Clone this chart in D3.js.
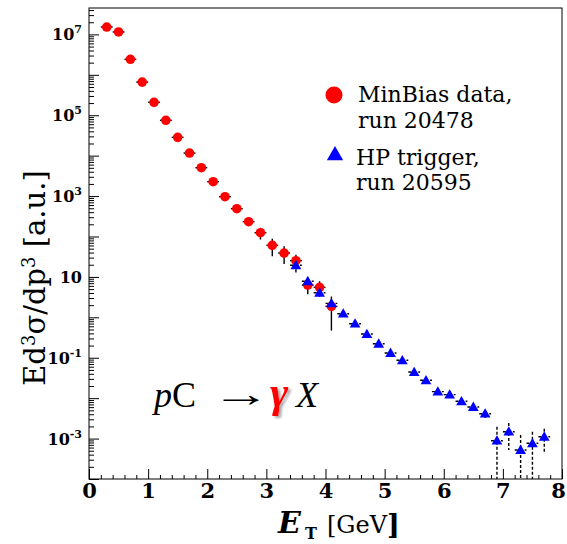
<!DOCTYPE html>
<html>
<head>
<meta charset="utf-8">
<script src="https://cdn.jsdelivr.net/npm/d3@7"></script>
<style>
  body { margin: 0; background: #fff; }
  svg { display: block; }
</style>
</head>
<body>
<svg id="chart" width="567" height="544"></svg>
<script>
// MinBias sample, run 20478: bin centres (GeV), invariant yield, absolute error
const mbET = [0.3, 0.5, 0.7, 0.9, 1.1, 1.3, 1.5, 1.7, 1.9, 2.1,
              2.3, 2.5, 2.7, 2.9, 3.1, 3.3, 3.5, 3.7, 3.9, 4.1];
const mbYield = [1.52e7, 1.15e7, 2.42e6, 6.6e5, 2.09e5, 7.5e4, 2.84e4, 1.16e4, 5.03e3, 2.27e3,
                 964, 487, 232, 124, 60.5, 39, 25.2, 6.3, 5.53, 1.87];
const mbErr = [3e5, 2.3e5, 5e4, 1.3e4, 4e3, 1.5e3, 600, 250, 110, 60,
               30, 20, 30, 40, 28, 18, 10, 2.6, 2.3, 1.4];

// HP-triggered sample, run 20595
const hpET = [3.5, 3.7, 3.9, 4.1, 4.3, 4.5, 4.7, 4.9, 5.1, 5.3, 5.5,
              5.7, 5.9, 6.1, 6.3, 6.5, 6.7, 6.9, 7.1, 7.3, 7.5, 7.7];
const hpYield = [19.4, 7.8, 4.06, 2.22, 1.23, 0.695, 0.386, 0.222, 0.131, 0.0865, 0.0443,
                 0.0277, 0.0145, 0.0122, 0.00836, 0.00604, 0.00413, 8.87e-4, 1.48e-3, 5.21e-4, 7.64e-4, 1.11e-3];
const hpErr = [7.6, 1.5, 0.3, 0.5, 0.12, 0.05, 0.03, 0.015, 0.009, 0.006, 0.003,
               0.002, 0.0012, 0.001, 8e-4, 9e-4, 1e-3, 1.08e-3, 9.6e-4, 7.0e-4, 7.2e-4, 6.4e-4];

const binHalfWidth = 0.1;
const xTickLabels = ["0", "1", "2", "3", "4", "5", "6", "7", "8"];
const yLabelExponents = [7, 5, 3, 1, -1, -3];

const legendItems = [
  { symbol: "circle",   color: "#ff0000", lines: ["MinBias data,", "run 20478"] },
  { symbol: "triangle", color: "#0000ff", lines: ["HP trigger,", "run 20595"] }
];

const svg = d3.select("#chart");
const frame = { left: 89, right: 562, top: 8, bottom: 479 };

const x = d3.scaleLinear().domain([0, 8]).range([frame.left, frame.right]);
const yMin = 1e-4;
const y = d3.scaleLog().domain([yMin, 4.5e7]).range([frame.bottom, frame.top]);

const serif = "'DejaVu Serif', serif";

// soft grey shadow used behind the photon symbol
const defs = svg.append("defs");
defs.append("filter").attr("id", "glyphShadow")
  .attr("x", "-30%").attr("y", "-30%").attr("width", "170%").attr("height", "170%")
  .append("feDropShadow")
  .attr("dx", 2.5).attr("dy", 2).attr("stdDeviation", 0.9)
  .attr("flood-color", "#888").attr("flood-opacity", 0.7);

// ---- axes -------------------------------------------------------------
const xMajor = d3.range(0, 8.001, 1);
const xMinor = d3.range(0, 8.001, 0.2).filter(v => Math.abs(v - Math.round(v)) > 1e-6);

svg.append("g")
  .attr("transform", `translate(0,${frame.bottom})`)
  .call(d3.axisBottom(x).tickValues(xMinor).tickSize(-4).tickFormat(""))
  .call(g => g.select(".domain").remove());

svg.append("g")
  .attr("class", "x-major")
  .attr("transform", `translate(0,${frame.bottom})`)
  .call(d3.axisBottom(x).tickValues(xMajor).tickSize(-10).tickPadding(4)
          .tickFormat((d, i) => xTickLabels[i]))
  .call(g => g.select(".domain").remove())
  .call(g => g.selectAll("text")
      .attr("fill", "#000")
      .attr("dx", (d, i) => (i === xTickLabels.length - 1 ? -4 : 0))
      .style("font-family", serif)
      .style("font-weight", "bold")
      .style("font-size", "21px"));

const [lo, hi] = y.domain();
const yMajor = [];
const yMinor = [];
for (let e = Math.floor(Math.log10(lo)); e <= Math.ceil(Math.log10(hi)); e++) {
  const p = Math.pow(10, e);
  if (p >= lo && p <= hi) yMajor.push(p);
  for (let k = 2; k <= 9; k++) {
    const v = k * p;
    if (v >= lo && v <= hi) yMinor.push(v);
  }
}

svg.append("g")
  .attr("transform", `translate(${frame.left},0)`)
  .call(d3.axisLeft(y).tickValues(yMinor).tickSize(-5).tickFormat(""))
  .call(g => g.select(".domain").remove());

svg.append("g")
  .attr("transform", `translate(${frame.left},0)`)
  .call(d3.axisLeft(y).tickValues(yMajor).tickSize(-10).tickFormat(""))
  .call(g => g.select(".domain").remove());

// decade labels written as 10 with a raised exponent
const yLabels = svg.append("g")
  .style("font-family", serif)
  .style("font-weight", "bold");
yLabelExponents.forEach(e => {
  const t = yLabels.append("text")
    .attr("x", 82)
    .attr("y", y(Math.pow(10, e)) + 6)
    .attr("text-anchor", "end")
    .style("font-size", "16px");
  t.append("tspan").text("10");
  if (e !== 1) {
    t.append("tspan").attr("dy", -7).style("font-size", "11px").text(String(e));
  }
});

// frame
svg.append("rect")
  .attr("x", frame.left).attr("y", frame.top)
  .attr("width", frame.right - frame.left).attr("height", frame.bottom - frame.top)
  .attr("fill", "none").attr("stroke", "#000").attr("stroke-width", 1);

// ---- axis titles --------------------------------------------------------
const xt = svg.append("g").style("font-family", serif).attr("fill", "#000");
xt.append("text").attr("x", 278).attr("y", 533)
  .style("font-size", "30px").style("font-weight", "bold").style("font-style", "italic").text("E");
xt.append("text").attr("x", 305).attr("y", 539)
  .style("font-size", "16px").style("font-weight", "bold").text("T");
xt.append("text").attr("x", 327).attr("y", 533)
  .style("font-size", "24px").text("[GeV");
xt.append("text").attr("x", 387).attr("y", 534)
  .style("font-size", "27px").style("font-weight", "bold").text("]");

const yt = svg.append("text")
  .attr("transform", "translate(45,278) rotate(-90)")
  .attr("text-anchor", "middle")
  .style("font-family", serif)
  .style("font-size", "29px");
yt.append("tspan").text("Ed");
yt.append("tspan").attr("dy", -10).style("font-size", "18px").text("3");
yt.append("tspan").attr("dy", 10).text("σ/dp");
yt.append("tspan").attr("dy", -10).style("font-size", "18px").text("3");
yt.append("tspan").attr("dy", 10).text(" [a.u.]");

// ---- data ---------------------------------------------------------------
const mbData = mbET.map((e, i) => ({ x: e, v: mbYield[i], err: mbErr[i] }));
const hpData = hpET.map((e, i) => ({ x: e, v: hpYield[i], err: hpErr[i] }));

function drawErrors(data, dashed) {
  const g = svg.append("g")
    .attr("stroke", "#000")
    .attr("stroke-width", 1.4)
    .attr("fill", "none");
  if (dashed) g.attr("stroke-dasharray", "3,2");
  g.selectAll("line.h").data(data).join("line")
    .attr("class", "h")
    .attr("x1", d => x(d.x - binHalfWidth))
    .attr("x2", d => x(d.x + binHalfWidth))
    .attr("y1", d => y(d.v)).attr("y2", d => y(d.v));
  g.selectAll("line.v").data(data).join("line")
    .attr("class", "v")
    .attr("x1", d => x(d.x)).attr("x2", d => x(d.x))
    .attr("y1", d => y(d.v + d.err))
    .attr("y2", d => y(Math.max(d.v - d.err, yMin)));
}

drawErrors(mbData, false);
drawErrors(hpData, true);

svg.append("g").selectAll("circle").data(mbData).join("circle")
  .attr("cx", d => x(d.x)).attr("cy", d => y(d.v)).attr("r", 4.8)
  .attr("fill", "#ff0000");

const tri = d3.symbol().type(d3.symbolTriangle).size(50);
svg.append("g").selectAll("path").data(hpData).join("path")
  .attr("transform", d => `translate(${x(d.x)},${y(d.v) + 0.8})`)
  .attr("d", tri)
  .attr("fill", "#0000ff");

// ---- legend -------------------------------------------------------------
const legend = svg.append("g").style("font-family", serif).style("font-size", "22px");
const legendRows = [
  { cy: 95, base: [102, 128], tx: 358 },
  { cy: 154, base: [165, 190], tx: 356 }
];
legendItems.forEach((item, i) => {
  const row = legendRows[i];
  if (item.symbol === "circle") {
    legend.append("circle").attr("cx", 334).attr("cy", row.cy).attr("r", 8.5).attr("fill", item.color);
  } else {
    legend.append("path")
      .attr("transform", `translate(335,${row.cy + 1.5})`)
      .attr("d", d3.symbol().type(d3.symbolTriangle).size(115)())
      .attr("fill", item.color);
  }
  item.lines.forEach((ln, j) => {
    legend.append("text").attr("x", row.tx).attr("y", row.base[j]).text(ln);
  });
});

// ---- reaction label -----------------------------------------------------
const rx = svg.append("g")
  .style("font-family", "'Liberation Serif', 'Times New Roman', serif")
  .style("font-size", "36px");
rx.append("text").attr("x", 154).attr("y", 407).style("font-style", "italic").text("p");
rx.append("text").attr("x", 172).attr("y", 407).text("C");
// long reaction arrow: the glyph is stretched horizontally
rx.append("g").attr("transform", "translate(211,406) scale(1.65,1)")
  .append("text").attr("x", 0).attr("y", 0).text("→");
rx.append("text").attr("x", 270).attr("y", 407)
  .style("font-style", "italic").style("font-weight", "bold").style("font-size", "44px")
  .attr("fill", "#ff0000").attr("filter", "url(#glyphShadow)").text("γ");
rx.append("text").attr("x", 296).attr("y", 407).style("font-style", "italic").text("X");
</script>
</body>
</html>
